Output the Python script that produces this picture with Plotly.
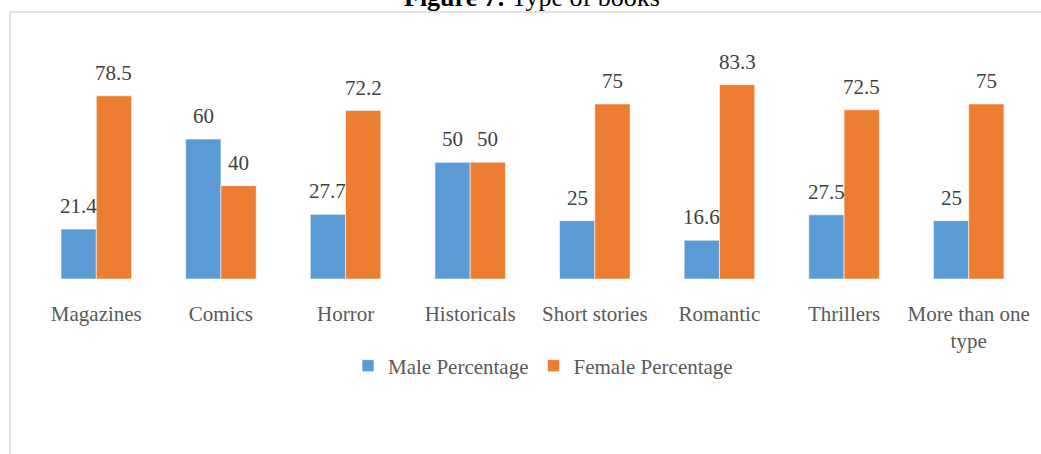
import plotly.graph_objects as go

categories = ["Magazines", "Comics", "Horror", "Historicals", "Short stories",
              "Romantic", "Thrillers", "More than one<br>type"]
male = [21.4, 60, 27.7, 50, 25, 16.6, 27.5, 25]
female = [78.5, 40, 72.2, 50, 75, 83.3, 72.5, 75]
male_labels = ["21.4", "60", "27.7", "50", "25", "16.6", "27.5", "25"]
female_labels = ["78.5", "40", "72.2", "50", "75", "83.3", "72.5", "75"]

W, H = 1041, 454
ml, mr, mt, mb = 34, 10, 69, 175
pw = W - ml - mr
ph = H - mt - mb
bargap = 0.434
cat_w = pw / len(categories)
bar_w = cat_w * (1 - bargap) / 2

FONT = "Liberation Serif, Times New Roman, serif"
FS = 21
BLUE = "#5B9BD5"
ORANGE = "#ED7D31"

fig = go.Figure()
fig.add_trace(go.Bar(x=categories, y=male, name="Male Percentage",
                     marker=dict(color=BLUE, line=dict(width=0.8, color="rgba(255,255,255,0.7)"))))
fig.add_trace(go.Bar(x=categories, y=female, name="Female Percentage",
                     marker=dict(color=ORANGE, line=dict(width=0.8, color="rgba(255,255,255,0.7)"))))

annotations = []
for c, v, t in zip(categories, male, male_labels):
    annotations.append(dict(x=c, y=v, text=t, showarrow=False, xshift=-bar_w / 2,
                            yshift=23, yanchor="middle",
                            font=dict(family=FONT, size=FS, color="#404040")))
for c, v, t in zip(categories, female, female_labels):
    annotations.append(dict(x=c, y=v, text=t, showarrow=False, xshift=bar_w / 2,
                            yshift=23, yanchor="middle",
                            font=dict(family=FONT, size=FS, color="#404040")))

def py(px):
    return (H - mb - px) / ph

def pxx(px):
    return (px - ml) / pw

annotations.append(dict(xref="paper", yref="paper", x=pxx(532), y=py(-3),
                        text="<b>Figure 7:</b> Type of books", showarrow=False,
                        xanchor="center", yanchor="middle",
                        font=dict(family=FONT, size=26, color="#000000")))

fig.update_layout(
    width=W, height=H,
    margin=dict(l=ml, r=mr, t=mt, b=mb),
    plot_bgcolor="white", paper_bgcolor="white",
    barmode="group", bargap=bargap, bargroupgap=0,
    font=dict(family=FONT, size=FS, color="#595959"),
    xaxis=dict(showline=False, showgrid=False, zeroline=False, ticks="",
               ticklabelstandoff=20,
               tickfont=dict(family=FONT, size=FS, color="#595959")),
    yaxis=dict(range=[0, 90], visible=False, showgrid=False, zeroline=False),
    showlegend=True,
    legend=dict(orientation="h", x=pxx(543), y=py(366), xanchor="center",
                yanchor="middle", font=dict(family=FONT, size=FS, color="#595959"),
                bgcolor="rgba(0,0,0,0)", itemwidth=30),
    annotations=annotations,
    shapes=[dict(type="rect", xref="paper", yref="paper",
                 x0=pxx(10), x1=pxx(1060), y0=py(470), y1=py(12),
                 line=dict(color="#D9D9D9", width=1.5), fillcolor="rgba(0,0,0,0)",
                 layer="below")],
)

fig.write_html("out.html", config={"displayModeBar": False},
               post_script="document.body.style.margin='0';document.body.style.overflow='hidden';")
